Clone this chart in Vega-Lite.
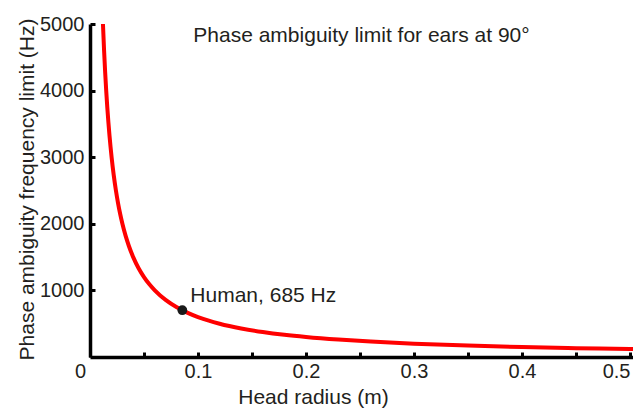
{
  "$schema": "https://vega.github.io/schema/vega-lite/v6.json",
  "width": 543,
  "height": 333,
  "autosize": {"type": "none"},
  "padding": {"left": 90, "top": 24, "right": 0, "bottom": 53},
  "background": "white",
  "config": {
    "view": {"stroke": null},
    "font": "Liberation Sans",
    "axis": {
      "grid": false,
      "domainColor": "#000000",
      "domainWidth": 3.5,
      "tickColor": "#000000",
      "tickWidth": 3,
      "labelFont": "Liberation Sans",
      "titleFont": "Liberation Sans",
      "labelColor": "#231f20",
      "titleColor": "#231f20",
      "labelFontSize": 20,
      "titleFontSize": 21,
      "titleFontWeight": "normal"
    }
  },
  "title": {
    "text": "Phase ambiguity limit for ears at 90°",
    "font": "Liberation Sans",
    "fontSize": 21,
    "fontWeight": "normal",
    "color": "#231f20",
    "anchor": "middle",
    "frame": "group",
    "baseline": "alphabetic",
    "offset": 0,
    "dy": 49
  },
  "datasets": {
    "curve": [
      {"r": 0.0115, "f": 5217},
      {"r": 0.012, "f": 5000},
      {"r": 0.013, "f": 4615},
      {"r": 0.014, "f": 4286},
      {"r": 0.015, "f": 4000},
      {"r": 0.016, "f": 3750},
      {"r": 0.017, "f": 3529},
      {"r": 0.018, "f": 3333},
      {"r": 0.019, "f": 3158},
      {"r": 0.02, "f": 3000},
      {"r": 0.022, "f": 2727},
      {"r": 0.024, "f": 2500},
      {"r": 0.026, "f": 2308},
      {"r": 0.028, "f": 2143},
      {"r": 0.03, "f": 2000},
      {"r": 0.033, "f": 1818},
      {"r": 0.036, "f": 1667},
      {"r": 0.04, "f": 1500},
      {"r": 0.045, "f": 1333},
      {"r": 0.05, "f": 1200},
      {"r": 0.055, "f": 1091},
      {"r": 0.06, "f": 1000},
      {"r": 0.07, "f": 857},
      {"r": 0.08, "f": 750},
      {"r": 0.09, "f": 667},
      {"r": 0.1, "f": 600},
      {"r": 0.11, "f": 545},
      {"r": 0.12, "f": 500},
      {"r": 0.14, "f": 429},
      {"r": 0.16, "f": 375},
      {"r": 0.18, "f": 333},
      {"r": 0.2, "f": 300},
      {"r": 0.23, "f": 261},
      {"r": 0.26, "f": 231},
      {"r": 0.3, "f": 200},
      {"r": 0.35, "f": 171},
      {"r": 0.4, "f": 150},
      {"r": 0.45, "f": 133},
      {"r": 0.5, "f": 120},
      {"r": 0.5028, "f": 119}
    ],
    "human": [
      {"r": 0.0855, "f": 702, "label": "Human, 685 Hz"}
    ]
  },
  "layer": [
    {
      "data": {"name": "curve"},
      "mark": {"type": "line", "color": "#ff0000", "strokeWidth": 4, "interpolate": "monotone", "clip": true},
      "encoding": {
        "x": {
          "field": "r",
          "type": "quantitative",
          "scale": {"domain": [0, 0.5028], "nice": false, "zero": false},
          "axis": {
            "title": "Head radius (m)",
            "values": [0, 0.05, 0.1, 0.15, 0.2, 0.25, 0.3, 0.35, 0.4, 0.45, 0.5],
            "labelExpr": "datum.value == 0 ? '0' : (abs(datum.value * 10 - round(datum.value * 10)) < 0.001 ? format(datum.value, '.1f') : '')",
            "tickSize": -5,
            "labelPadding": 9,
            "labelOffset": {"condition": {"test": "datum.value == 0", "value": -10}, "value": 0},
            "labelAlign": {"condition": {"test": "datum.value >= 0.5", "value": "right"}, "value": "center"},
            "labelFlush": false,
            "titleX": 223,
            "titleY": 46,
            "titleAlign": "center",
            "titleBaseline": "alphabetic"
          }
        },
        "y": {
          "field": "f",
          "type": "quantitative",
          "scale": {"domain": [0, 5000], "nice": false},
          "axis": {
            "title": "Phase ambiguity frequency  limit (Hz)",
            "values": [1000, 2000, 3000, 4000, 5000],
            "format": "d",
            "tickSize": -5,
            "labelPadding": 11,
            "labelBaseline": "middle",
            "titleX": -63,
            "titleY": 165,
            "titleAngle": -90,
            "titleAlign": "center",
            "titleBaseline": "middle"
          }
        }
      }
    },
    {
      "data": {"name": "human"},
      "mark": {"type": "point", "filled": true, "color": "#1a1a1a", "size": 95, "opacity": 1},
      "encoding": {
        "x": {"field": "r", "type": "quantitative"},
        "y": {"field": "f", "type": "quantitative"}
      }
    },
    {
      "data": {"name": "human"},
      "mark": {"type": "text", "align": "left", "baseline": "alphabetic", "dx": 8, "dy": -8, "font": "Liberation Sans", "fontSize": 21, "color": "#231f20"},
      "encoding": {
        "x": {"field": "r", "type": "quantitative"},
        "y": {"field": "f", "type": "quantitative"},
        "text": {"field": "label"}
      }
    }
  ]
}
